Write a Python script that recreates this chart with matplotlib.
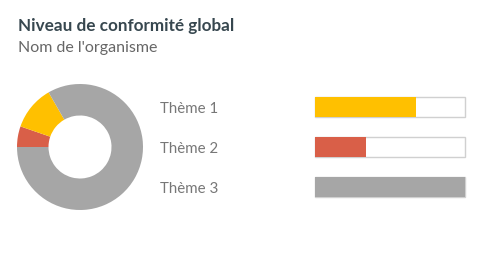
import matplotlib
matplotlib.use("Agg")
import matplotlib.pyplot as plt
import matplotlib.transforms as mtransforms

# Chart data
title = "Niveau de conformité global"
subtitle = "Nom de l'organisme"
donut_labels = ["Thème 2", "Thème 1", "Thème 3"]
donut_values = [5.3, 11.4, 83.3]
donut_colors = ["#D95F48", "#FFC000", "#A6A6A6"]

themes = ["Thème 1", "Thème 2", "Thème 3"]
scores = [67, 34, 100]
bar_colors = ["#FFC000", "#D95F48", "#A6A6A6"]

W, H = 480, 270
fig = plt.figure(figsize=(4.8, 2.7), dpi=100)
fig.patch.set_facecolor("white")

def px_axes(x0, y0, x1, y1):
    # pixel box (top-left origin) -> figure axes
    return fig.add_axes([x0 / W, 1 - y1 / H, (x1 - x0) / W, (y1 - y0) / H])

fig.text(18 / W, 1 - 26 / H, title, fontsize=12.3, fontweight="bold",
         color="#37474F", family="Lato", va="center", ha="left")
fig.text(18 / W, 1 - 48 / H, subtitle, fontsize=11.5, fontweight="normal",
         color="#666666", family="Lato", va="center", ha="left")

# Donut
ax_d = px_axes(17, 84, 143, 210)
ax_d.pie(donut_values, colors=donut_colors, startangle=180, counterclock=False,
         radius=1.0, wedgeprops=dict(width=0.5, linewidth=0))
ax_d.set_aspect("equal")
ax_d.set_xlim(-1, 1)
ax_d.set_ylim(-1, 1)
ax_d.axis("off")

# Progress bars
ax_b = px_axes(315, 87, 465, 207)
ypos = list(range(len(themes)))
ax_b.barh(ypos, [100] * len(themes), height=0.5, color="white",
          edgecolor="#D0D0D0", linewidth=1.0, clip_on=False)
ax_b.barh(ypos, scores, height=0.5, color=bar_colors, linewidth=0, clip_on=False)
ax_b.set_xlim(0, 100)
ax_b.set_ylim(2.5, -0.5)
ax_b.axis("off")

trans = mtransforms.blended_transform_factory(ax_b.transAxes, ax_b.transData)
for y, name in zip(ypos, themes):
    ax_b.text((160 - 315) / 150, y + 0.05, name, transform=trans, fontsize=10.8,
              fontweight="normal", color="#777777", family="Lato",
              va="center", ha="left", clip_on=False)

fig.savefig("out.png", dpi=100, facecolor="white")
